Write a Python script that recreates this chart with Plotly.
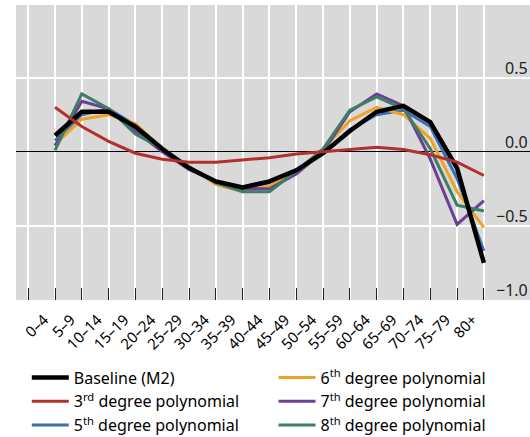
import plotly.graph_objects as go

categories = ["0–4", "5–9", "10–14", "15–19", "20–24", "25–29", "30–34", "35–39",
              "40–44", "45–49", "50–54", "55–59", "60–64", "65–69", "70–74", "75–79", "80+"]

baseline = [0.11, 0.27, 0.27, 0.17, 0.02, -0.11, -0.20, -0.24, -0.20, -0.125, -0.01,
            0.14, 0.27, 0.31, 0.20, -0.11, -0.75]
poly3 = [0.30, 0.17, 0.07, -0.01, -0.05, -0.07, -0.07, -0.055, -0.04, -0.015, 0.00,
         0.02, 0.03, 0.015, -0.02, -0.07, -0.16]
poly5 = [0.075, 0.25, 0.29, 0.18, 0.01, -0.11, -0.20, -0.25, -0.21, -0.13, -0.01,
         0.15, 0.25, 0.28, 0.17, -0.18, -0.67]
poly6 = [0.05, 0.22, 0.25, 0.19, 0.02, -0.10, -0.22, -0.27, -0.23, -0.13, 0.02,
         0.21, 0.30, 0.25, 0.09, -0.27, -0.51]
poly7 = [0.04, 0.34, 0.29, 0.14, 0.00, -0.12, -0.20, -0.25, -0.25, -0.15, 0.00,
         0.27, 0.39, 0.31, -0.05, -0.49, -0.33]
poly8 = [0.01, 0.39, 0.29, 0.12, 0.02, -0.10, -0.21, -0.27, -0.27, -0.13, 0.02,
         0.28, 0.37, 0.29, 0.02, -0.36, -0.40]

y_ticks = [-1.0, -0.5, 0.0, 0.5, 1.0]
y_ticktext = ["−1.0", "−0.5", "0.0", "0.5", ""]

x_idx = list(range(len(categories)))

FONT = "Noto Sans"

fig = go.Figure()


def add(name, vals, col, w, legend, rank):
    fig.add_trace(go.Scatter(x=x_idx, y=vals, mode="lines", name=name,
                             line=dict(color=col, width=w), legend=legend,
                             legendrank=rank))


# drawing order (bottom to top)
add("5<sup>th</sup> degree polynomial", poly5, "#3b6fb6", 3, "legend", 3)
add("6<sup>th</sup> degree polynomial", poly6, "#f0a225", 3, "legend2", 1)
add("7<sup>th</sup> degree polynomial", poly7, "#6b3f91", 3, "legend2", 2)
add("8<sup>th</sup> degree polynomial", poly8, "#3e7e68", 3, "legend2", 3)
add("Baseline (M2)", baseline, "#000000", 4.5, "legend", 1)
add("3<sup>rd</sup> degree polynomial", poly3, "#b3312c", 3, "legend", 2)

leg_common = dict(orientation="v", yanchor="top", xanchor="left",
                  itemwidth=37, font=dict(size=16, family=FONT, color="#000000"),
                  bgcolor="rgba(0,0,0,0)", traceorder="normal", tracegroupgap=0)

fig.update_layout(
    width=530, height=437,
    margin=dict(l=16, r=0, t=5, b=137, autoexpand=False),
    paper_bgcolor="white",
    plot_bgcolor="#d9d9d9",
    font=dict(family=FONT, size=14, color="#000000"),
    showlegend=True,
    legend=dict(x=0.021, y=-0.205, **leg_common),
    legend2=dict(x=0.501, y=-0.205, **leg_common),
)

for v, t in zip(y_ticks, y_ticktext):
    if t:
        fig.add_annotation(x=1, xref="paper", xanchor="right", xshift=0,
                           y=v, yref="y", yanchor="middle", yshift=10,
                           text=t, showarrow=False,
                           font=dict(size=16, family=FONT, color="#222222"))

fig.update_xaxes(
    range=[-1.455, 17.72],
    tickmode="array",
    tickvals=[-1] + x_idx,
    ticktext=[""] + categories,
    tickangle=-45,
    ticks="inside", ticklen=12, tickwidth=1.3, tickcolor="#222222",
    ticklabelshift=-11, ticklabelstandoff=7,
    showgrid=True, gridcolor="white", gridwidth=1.5,
    zeroline=False, showline=False,
    tickfont=dict(size=15, family=FONT),
    automargin=False,
)

fig.update_yaxes(
    range=[-1.0, 0.99],
    tickmode="array",
    tickvals=y_ticks,
    showticklabels=False,
    ticks="",
    showgrid=True, gridcolor="white", gridwidth=1.5,
    zeroline=True, zerolinecolor="#000000", zerolinewidth=1,
    showline=False,
    automargin=False,
)

fig.write_html("out.html",
               config={"displayModeBar": False},
               post_script="document.body.style.margin='0px';"
                           "document.body.style.overflow='hidden';")
